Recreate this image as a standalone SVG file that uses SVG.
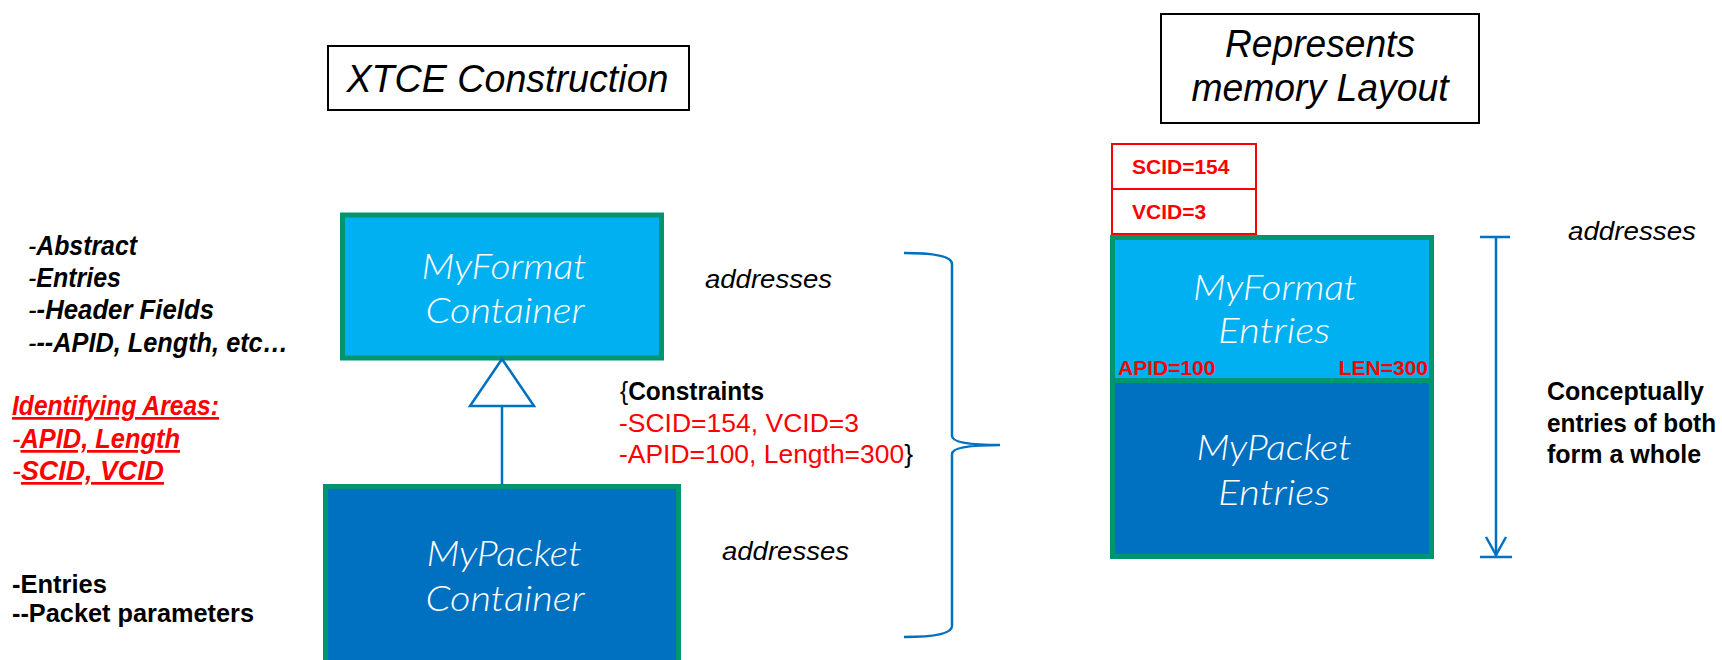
<svg xmlns="http://www.w3.org/2000/svg" width="1722" height="660" viewBox="0 0 1722 660">
<style>
.t{font-family:"Liberation Sans",Arial,sans-serif}
.it{font-style:italic}
.b{font-weight:bold}
.blk{fill:#000}
.red{fill:#FF0000}
.box{stroke:#00956E;stroke-width:5}
.lt{fill:#00B0F0}
.dk{fill:#0070C0}
.cls{font-family:Lato,"Open Sans",sans-serif;font-style:italic;font-weight:300;fill:#fff;font-size:36px;text-anchor:middle}
.conn{fill:none;stroke:#0070C0;stroke-width:2.5}
.title{fill:#fff;stroke:#000;stroke-width:2}
.u{text-decoration:underline}
</style>
<rect width="1722" height="660" fill="#fff"/>

<g id="title-xtce">
<rect class="title" x="328" y="46" width="361" height="64"/>
<text class="t it" x="507.5" y="92" font-size="38" text-anchor="middle" textLength="322" lengthAdjust="spacingAndGlyphs">XTCE Construction</text>
</g>

<g id="title-memory">
<rect class="title" x="1161" y="14" width="318" height="109"/>
<text class="t it" font-size="38" text-anchor="middle"><tspan x="1320" y="57" textLength="190" lengthAdjust="spacingAndGlyphs">Represents</tspan><tspan x="1320" y="101" textLength="257" lengthAdjust="spacingAndGlyphs">memory Layout</tspan></text>
</g>

<g id="left-notes">
<text class="t it" font-size="27" x="28" y="255" textLength="109" lengthAdjust="spacingAndGlyphs">-<tspan class="b">Abstract</tspan></text>
<text class="t it" font-size="27" x="28" y="287" textLength="93" lengthAdjust="spacingAndGlyphs">-<tspan class="b">Entries</tspan></text>
<text class="t it" font-size="27" x="28" y="319" textLength="186" lengthAdjust="spacingAndGlyphs">-<tspan class="b">-Header Fields</tspan></text>
<text class="t it" font-size="27" x="28" y="352" textLength="260" lengthAdjust="spacingAndGlyphs">-<tspan class="b">--APID, Length, etc…</tspan></text>
</g>

<g id="identifying-areas">
<text class="t it b red u" font-size="27" x="12" y="415" textLength="207" lengthAdjust="spacingAndGlyphs">Identifying Areas:</text>
<text class="t it b red" font-size="27" x="12" y="448" textLength="168" lengthAdjust="spacingAndGlyphs"><tspan font-weight="normal">-</tspan><tspan class="u">APID, Length</tspan></text>
<text class="t it b red" font-size="27" x="12" y="480" textLength="152" lengthAdjust="spacingAndGlyphs"><tspan font-weight="normal">-</tspan><tspan class="u">SCID, VCID</tspan></text>
</g>

<g id="packet-notes">
<text class="t b" font-size="25.5" x="12" y="593">-Entries</text>
<text class="t b" font-size="25.5" x="12" y="622" textLength="242" lengthAdjust="spacingAndGlyphs">--Packet parameters</text>
</g>

<g id="myformat-container">
<rect class="box lt" x="342.5" y="215" width="319" height="143"/>
<text class="cls"><tspan x="504" y="279" textLength="165" lengthAdjust="spacingAndGlyphs">MyFormat</tspan><tspan x="505" y="323" textLength="159" lengthAdjust="spacingAndGlyphs">Container</tspan></text>
</g>

<g id="mypacket-container">
<rect class="box dk" x="325.5" y="486.5" width="353" height="200"/>
<text class="cls"><tspan x="504" y="566" textLength="155" lengthAdjust="spacingAndGlyphs">MyPacket</tspan><tspan x="505" y="611" textLength="159" lengthAdjust="spacingAndGlyphs">Container</tspan></text>
</g>

<g id="addresses-labels">
<text class="t it" font-size="26" x="705" y="288" textLength="127" lengthAdjust="spacingAndGlyphs">addresses</text>
<text class="t it" font-size="26" x="722" y="560" textLength="127" lengthAdjust="spacingAndGlyphs">addresses</text>
<text class="t it" font-size="26" x="1568" y="240" textLength="128" lengthAdjust="spacingAndGlyphs">addresses</text>
</g>

<g id="constraints">
<text class="t" font-size="25.5" x="620" y="400" textLength="144" lengthAdjust="spacingAndGlyphs">{<tspan class="b">Constraints</tspan></text>
<text class="t red" font-size="26" x="619" y="432" textLength="240" lengthAdjust="spacingAndGlyphs">-SCID=154, VCID=3</text>
<text class="t red" font-size="26" x="619" y="463" textLength="294" lengthAdjust="spacingAndGlyphs">-APID=100, Length=300<tspan class="blk">}</tspan></text>
</g>

<g id="id-fields">
<rect x="1112" y="144" width="144" height="45" fill="#fff" stroke="#FF0000" stroke-width="2"/>
<rect x="1112" y="189" width="144" height="45" fill="#fff" stroke="#FF0000" stroke-width="2"/>
<text class="t b red" font-size="21" x="1132" y="174">SCID=154</text>
<text class="t b red" font-size="21" x="1132" y="219">VCID=3</text>
</g>

<g id="myformat-entries">
<rect class="box lt" x="1112.5" y="237.5" width="319" height="143"/>
<text class="cls"><tspan x="1275" y="300" textLength="164" lengthAdjust="spacingAndGlyphs">MyFormat</tspan><tspan x="1274" y="343" textLength="112" lengthAdjust="spacingAndGlyphs">Entries</tspan></text>
<text class="t b red" font-size="21" x="1118" y="375">APID=100</text>
<text class="t b red" font-size="21" x="1428" y="375" text-anchor="end">LEN=300</text>
</g>

<g id="mypacket-entries">
<rect class="box dk" x="1112.5" y="380.5" width="319" height="176"/>
<text class="cls"><tspan x="1274" y="460" textLength="155" lengthAdjust="spacingAndGlyphs">MyPacket</tspan><tspan x="1274" y="505" textLength="112" lengthAdjust="spacingAndGlyphs">Entries</tspan></text>
</g>

<g id="whole-note">
<text class="t b" font-size="25" x="1547" y="400">Conceptually</text>
<text class="t b" font-size="25" x="1547" y="432" textLength="169" lengthAdjust="spacingAndGlyphs">entries of both</text>
<text class="t b" font-size="25" x="1547" y="463">form a whole</text>
</g>

<g id="connectors">
<line class="conn" x1="502" y1="406" x2="502" y2="485"/>
<polygon points="502,359 470,406 534,406" fill="#fff" stroke="#0070C0" stroke-width="2.5"/>
<path class="conn" stroke-width="3" d="M904,253 Q952,253 952,264 L952,436 Q952,445 1000,445 Q952,445 952,454 L952,626 Q952,637 904,637"/>
<line class="conn" x1="1496" y1="237" x2="1496" y2="556"/>
<line class="conn" x1="1480" y1="237" x2="1510" y2="237"/>
<line class="conn" x1="1480" y1="557" x2="1512" y2="557"/>
<polyline class="conn" points="1486,537 1496,555 1506,537"/>
</g>
</svg>
